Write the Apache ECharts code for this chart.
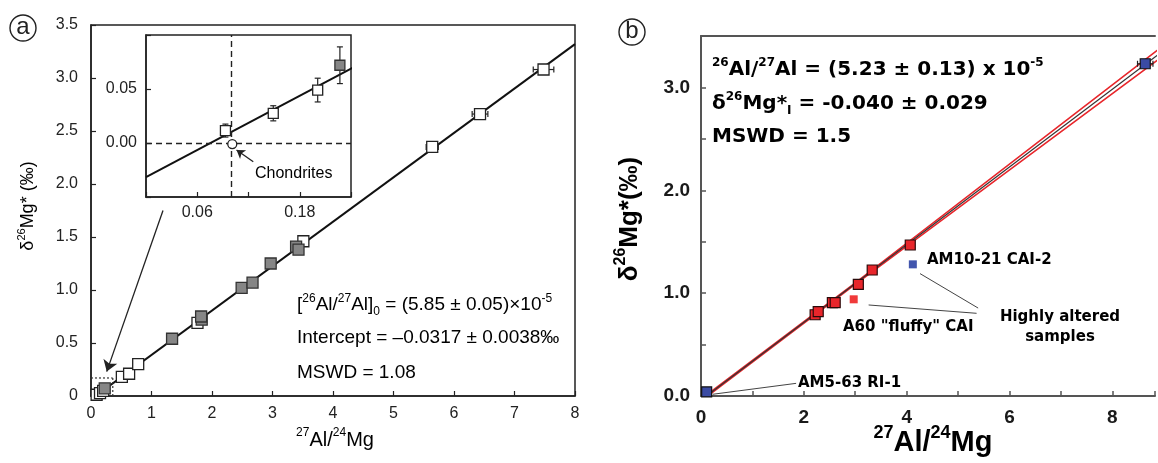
<!DOCTYPE html>
<html><head><meta charset="utf-8">
<script src="https://cdn.jsdelivr.net/npm/echarts@6/dist/echarts.min.js"></script>
<style>html,body{margin:0;padding:0;background:#fff}#c{width:1158px;height:463px}</style>
</head><body><div id="c"></div>
<script>
// ---------- Panel (a) data ----------
const aOpen = [[0.093,0.012],[0.149,0.028],[0.201,0.049],[0.51,0.18],[0.63,0.21],[0.78,0.30],[1.76,0.69],[3.51,1.46],[5.64,2.35],[6.43,2.66],[7.48,3.08]];
const aGray = [[0.227,0.072],[1.34,0.54],[1.83,0.72],[1.82,0.75],[2.49,1.02],[2.67,1.07],[2.97,1.25],[3.39,1.41],[3.43,1.38]];
const aXErr = [[5.64,2.35,0.10],[6.43,2.66,0.13],[7.48,3.08,0.17]];
const aFit = [[0,-0.0317],[8,3.32]];
const aZoomBoxH = [[0,0.17],[0.36,0.17]];
const aZoomBoxV = [[0.36,0],[0.36,0.17]];
const aArrow = [[1.19,1.75],[0.26,0.23]];
// ---------- Inset data ----------
const insOpen = [[0.093,0.0115],[0.149,0.0275],[0.201,0.049]];
const insGray = [[0.227,0.072]];
const insYErr = [[0.093,0.0115,0.006],[0.149,0.0275,0.007],[0.201,0.049,0.011],[0.227,0.072,0.017]];
const chondrite = [[0.101,-0.001]];
const chondriteX = 0.101;
const chondriteArrow = [[0.1256,-0.0173],[0.106,-0.0065]];
// ---------- Panel (b) data ----------
const bFit = [[0,-0.04],[9,3.36]];
const bUpper = [[0,-0.03],[3,1.10],[9,3.41]];
const bLower = [[0,-0.05],[3,1.086],[9,3.31]];
const bRed = [[2.22,0.79],[2.28,0.82],[2.555,0.907],[2.61,0.907],[3.06,1.086],[3.33,1.225],[4.07,1.468]];
const bBlue = [[0.11,0.04],[8.64,3.23]];
const bBlueXErr = [[8.64,3.23,0.15]];
const bAltRed = [[2.97,0.94]];
const bAltBlue = [[4.12,1.28]];
const bLeaders = [[[4.26,1.19],[5.39,0.855]],[[3.26,0.885],[5.36,0.804]],[[0.23,0.017],[1.85,0.123]]];
const bXMax = 8.83; // visible part of the x range (chart is cut at the right edge)

function rich(family, size, weight, color){
  const c = color || '#1a1a1a';
  return {
    n:{fontFamily:family,fontSize:size,fontWeight:weight,color:c,lineHeight:Math.round(size*1.3)},
    sp:{fontFamily:family,fontSize:Math.round(size*0.62),fontWeight:weight,color:c,lineHeight:Math.round(size*0.8),verticalAlign:'top'},
    sb:{fontFamily:family,fontSize:Math.round(size*0.62),fontWeight:weight,color:c,lineHeight:Math.round(size*0.5),verticalAlign:'bottom'}
  };
}
function txt(x,y,text,r,opts){
  opts = opts||{};
  return {type:'text', x:x, y:y, rotation:opts.rot||0, z:50,
    style:{text:text, rich:r, align:opts.align||'left', verticalAlign:'middle'}};
}
function xErrRender(params, api){
  const x=api.value(0), y=api.value(1), e=api.value(2);
  const p1=api.coord([x-e,y]), p2=api.coord([x+e,y]);
  const st={stroke:'#222', lineWidth:1.2}; const c=3;
  return {type:'group', children:[
    {type:'line', shape:{x1:p1[0],y1:p1[1],x2:p2[0],y2:p2[1]}, style:st},
    {type:'line', shape:{x1:p1[0],y1:p1[1]-c,x2:p1[0],y2:p1[1]+c}, style:st},
    {type:'line', shape:{x1:p2[0],y1:p2[1]-c,x2:p2[0],y2:p2[1]+c}, style:st}]};
}
function yErrRender(params, api){
  const x=api.value(0), y=api.value(1), e=api.value(2);
  const p1=api.coord([x,y-e]), p2=api.coord([x,y+e]);
  const st={stroke:'#222', lineWidth:1.2}; const c=3;
  return {type:'group', children:[
    {type:'line', shape:{x1:p1[0],y1:p1[1],x2:p2[0],y2:p2[1]}, style:st},
    {type:'line', shape:{x1:p1[0]-c,y1:p1[1],x2:p1[0]+c,y2:p1[1]}, style:st},
    {type:'line', shape:{x1:p2[0]-c,y1:p2[1],x2:p2[0]+c,y2:p2[1]}, style:st}]};
}
const near=(a,b)=>Math.abs(a-b)<1e-6;
const A_FONT='Liberation Sans';
const aAxisLine={show:true,onZero:false,lineStyle:{color:'#222',width:1.5}};
const aTick={show:true,inside:true,length:5,lineStyle:{color:'#222',width:1.2}};
const bAxisLine={show:true,onZero:false,lineStyle:{color:'#555',width:2}};
const bTick={show:true,inside:true,length:5,lineStyle:{color:'#555',width:1.5}};

const chart = echarts.init(document.getElementById('c'), null, {renderer:'canvas'});
const rA = rich(A_FONT,19,'normal');
const rB = rich('DejaVu Sans',20,'bold');
const rBann = rich('DejaVu Sans',15,'bold','#222');
const option = {
  animation:false, backgroundColor:'#fff',
  grid:[
    {left:91, top:25, width:484, height:371, show:true, borderColor:'#222', borderWidth:1.5, backgroundColor:'transparent'},
    {left:146, top:35, width:205, height:162, show:true, borderColor:'#222', borderWidth:1.5, backgroundColor:'#fff'},
    {left:701, top:36, right:0, height:360, show:false}
  ],
  xAxis:[
    {gridIndex:0,type:'value',min:0,max:8,interval:1,axisLine:aAxisLine,axisTick:aTick,splitLine:{show:false},
      axisLabel:{margin:10,fontSize:16,fontFamily:A_FONT,color:'#222',showMaxLabel:true,showMinLabel:true}},
    {gridIndex:1,type:'value',min:0,max:0.24,interval:0.06,axisLine:aAxisLine,axisTick:aTick,splitLine:{show:false},
      axisLabel:{margin:8,fontSize:16,fontFamily:A_FONT,color:'#222',formatter:v=>near(v,0.06)?'0.06':(near(v,0.18)?'0.18':'')}},
    {gridIndex:2,type:'value',min:0,max:bXMax,interval:1,axisLine:bAxisLine,axisTick:bTick,splitLine:{show:false},
      axisLabel:{margin:12,fontSize:19,fontWeight:'bold',fontFamily:A_FONT,color:'#1a1a1a',
        formatter:v=>(near(v,Math.round(v)) && Math.round(v)%2===0)?String(Math.round(v)):''}},
    {gridIndex:2,type:'value',position:'top',min:0,max:bXMax,axisLine:bAxisLine,axisTick:{show:false},axisLabel:{show:false},splitLine:{show:false}}
  ],
  yAxis:[
    {gridIndex:0,type:'value',min:0,max:3.5,interval:0.5,axisLine:aAxisLine,axisTick:aTick,splitLine:{show:false},
      axisLabel:{margin:13,fontSize:16,fontFamily:A_FONT,color:'#222',showMaxLabel:true,formatter:v=>v===0?'0':v.toFixed(1)}},
    {gridIndex:1,type:'value',min:-0.05,max:0.10,interval:0.05,axisLine:aAxisLine,axisTick:aTick,splitLine:{show:false},
      axisLabel:{margin:9,fontSize:16,fontFamily:A_FONT,color:'#222',formatter:v=>near(v,0.05)?'0.05':(near(v,0)?'0.00':'')}},
    {gridIndex:2,type:'value',min:0,max:3.5,interval:0.5,axisLine:bAxisLine,axisTick:bTick,splitLine:{show:false},
      axisLabel:{margin:11,fontSize:19,fontWeight:'bold',fontFamily:A_FONT,color:'#1a1a1a',formatter:v=>near(v,Math.round(v))?v.toFixed(1):''}}
  ],
  series:[
    // ---- panel a ----
    {type:'line',xAxisIndex:0,yAxisIndex:0,data:aFit,symbol:'none',silent:true,lineStyle:{color:'#111',width:2},z:2,
      markLine:{silent:true,symbol:['none','arrow'],symbolSize:11,label:{show:false},lineStyle:{color:'#222',width:1.3,type:'solid'},
        data:[[{coord:aArrow[0]},{coord:aArrow[1]}]]}},
    {type:'line',xAxisIndex:0,yAxisIndex:0,data:aZoomBoxH,symbol:'none',silent:true,lineStyle:{color:'#333',width:1.2,type:[2,2]},z:2},
    {type:'line',xAxisIndex:0,yAxisIndex:0,data:aZoomBoxV,symbol:'none',silent:true,lineStyle:{color:'#333',width:1.2,type:[2,2]},z:2},
    {type:'custom',xAxisIndex:0,yAxisIndex:0,data:aXErr,renderItem:xErrRender,encode:{x:0,y:1},z:3,silent:true},
    {type:'scatter',xAxisIndex:0,yAxisIndex:0,data:aOpen,symbol:'rect',symbolSize:11,itemStyle:{color:'#fff',borderColor:'#222',borderWidth:1.3,opacity:1},z:4},
    {type:'scatter',xAxisIndex:0,yAxisIndex:0,data:aGray,symbol:'rect',symbolSize:11,itemStyle:{color:'#868686',borderColor:'#333',borderWidth:1.3,opacity:1},z:4},
    // ---- inset ----
    {type:'line',xAxisIndex:1,yAxisIndex:1,data:aFit,symbol:'none',silent:true,lineStyle:{color:'#111',width:2},z:2,
      markLine:{silent:true,symbol:'none',label:{show:false},lineStyle:{color:'#222',width:1.4,type:[6,4]},
        data:[{xAxis:chondriteX},{yAxis:0}]}},
    {type:'line',xAxisIndex:1,yAxisIndex:1,data:[],symbol:'none',silent:true,
      markLine:{silent:true,symbol:['none','arrow'],symbolSize:8,label:{show:false},lineStyle:{color:'#222',width:1.3,type:'solid'},
        data:[[{coord:chondriteArrow[0]},{coord:chondriteArrow[1]}]]}},
    {type:'custom',xAxisIndex:1,yAxisIndex:1,data:insYErr,renderItem:yErrRender,encode:{x:0,y:1},z:3,silent:true},
    {type:'scatter',xAxisIndex:1,yAxisIndex:1,data:insOpen,symbol:'rect',symbolSize:10,itemStyle:{color:'#fff',borderColor:'#222',borderWidth:1.3,opacity:1},z:4},
    {type:'scatter',xAxisIndex:1,yAxisIndex:1,data:insGray,symbol:'rect',symbolSize:10,itemStyle:{color:'#868686',borderColor:'#333',borderWidth:1.3,opacity:1},z:4},
    {type:'scatter',xAxisIndex:1,yAxisIndex:1,data:chondrite,symbol:'circle',symbolSize:9,itemStyle:{color:'#fff',borderColor:'#222',borderWidth:1.3,opacity:1},z:5},
    // ---- panel b ----
    {type:'line',xAxisIndex:2,yAxisIndex:2,data:bUpper,symbol:'none',silent:true,lineStyle:{color:'#e8262b',width:1.5},z:2},
    {type:'line',xAxisIndex:2,yAxisIndex:2,data:bLower,symbol:'none',silent:true,lineStyle:{color:'#e8262b',width:1.5},z:2},
    {type:'line',xAxisIndex:2,yAxisIndex:2,data:bFit,symbol:'none',silent:true,lineStyle:{color:'#333',width:1.3},z:3},
    ...bLeaders.map(d=>({type:'line',xAxisIndex:2,yAxisIndex:2,data:d,symbol:'none',silent:true,lineStyle:{color:'#444',width:1},z:3})),
    {type:'custom',xAxisIndex:2,yAxisIndex:2,data:bBlueXErr,renderItem:xErrRender,encode:{x:0,y:1},z:4,silent:true},
    {type:'scatter',xAxisIndex:2,yAxisIndex:2,data:bRed,symbol:'rect',symbolSize:10,itemStyle:{color:'#e8262b',borderColor:'#2a0a0a',borderWidth:1.2,opacity:1},z:5},
    {type:'scatter',xAxisIndex:2,yAxisIndex:2,data:bBlue,symbol:'rect',symbolSize:10,itemStyle:{color:'#3a4ba3',borderColor:'#111',borderWidth:1.2,opacity:1},z:5},
    {type:'scatter',xAxisIndex:2,yAxisIndex:2,data:bAltRed,symbol:'rect',symbolSize:8,itemStyle:{color:'#f03a3a',opacity:1},z:5},
    {type:'scatter',xAxisIndex:2,yAxisIndex:2,data:bAltBlue,symbol:'rect',symbolSize:8,itemStyle:{color:'#4256ad',opacity:1},z:5}
  ],
  graphic:[
    {type:'circle',shape:{cx:23,cy:28,r:13},style:{fill:'none',stroke:'#222',lineWidth:1.4}},
    {type:'text',x:23,y:27,style:{text:'a',font:'24px "Liberation Sans"',fill:'#222',align:'center',verticalAlign:'middle'}},
    {type:'circle',shape:{cx:632,cy:32,r:13},style:{fill:'none',stroke:'#222',lineWidth:1.4}},
    {type:'text',x:632,y:31,style:{text:'b',font:'24px "Liberation Sans"',fill:'#222',align:'center',verticalAlign:'middle'}},
    // panel a texts
    txt(28,206,'{n|δ}{sp|26}{n|Mg* (‰)}',rich(A_FONT,18,'normal'),{rot:Math.PI/2,align:'center'}),
    txt(335,440,'{sp|27}{n|Al/}{sp|24}{n|Mg}',rich(A_FONT,20,'normal'),{align:'center'}),
    txt(297,305,'{n|[}{sp|26}{n|Al/}{sp|27}{n|Al]}{sb|0}{n| = (5.85 ± 0.05)×10}{sp|-5}',rA),
    txt(297,338,'{n|Intercept = –0.0317 ± 0.0038‰}',rA),
    txt(297,373,'{n|MSWD = 1.08}',rA),
    txt(255,174,'{n|Chondrites}',rich(A_FONT,16,'normal')),
    // panel b texts
    txt(630,219,'{n|δ}{sp|26}{n|Mg*(‰)}',rich(A_FONT,26,'bold'),{rot:Math.PI/2,align:'center'}),
    txt(933,443,'{sp|27}{n|Al/}{sp|24}{n|Mg}',rich(A_FONT,29,'bold'),{align:'center'}),
    txt(712,70,'{sp|26}{n|Al/}{sp|27}{n|Al = (5.23 ± 0.13) x 10}{sp|-5}',rB),
    txt(712,104,'{n|δ}{sp|26}{n|Mg*}{sb|I}{n| = -0.040 ± 0.029}',rB),
    txt(712,137,'{n|MSWD = 1.5}',rB),
    txt(927,260,'{n|AM10-21 CAI-2}',rBann),
    txt(1060,317,'{n|Highly altered}',rBann,{align:'center'}),
    txt(1060,337,'{n|samples}',rBann,{align:'center'}),
    txt(843,327,'{n|A60 "fluffy" CAI}',rBann),
    txt(798,383,'{n|AM5-63 RI-1}',rBann)
  ]
};
chart.setOption(option);
</script></body></html>
